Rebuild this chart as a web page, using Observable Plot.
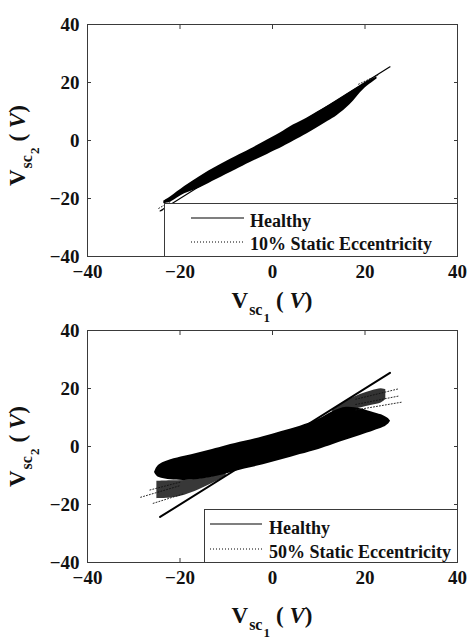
<!DOCTYPE html>
<html>
<head>
<meta charset="utf-8">
<script src="https://cdn.jsdelivr.net/npm/d3@7"></script>
<script src="https://cdn.jsdelivr.net/npm/@observablehq/plot@0.6"></script>
<style>
  body { margin: 0; background: #fff; }
  #wrap { position: relative; width: 469px; height: 639px; overflow: hidden; background: #fff;
          font-family: "Liberation Serif", "Times New Roman", Times, "DejaVu Serif", serif; font-weight: bold; color: #111; }
  .panel { position: absolute; left: 0; }
  .lab { position: absolute; white-space: nowrap; font-size: 23px; line-height: 23px; }
  .lab .s1 { font-size: 16px; position: relative; top: 7px; margin-left: 1px; }
  .lab .s2 { font-size: 13px; position: relative; top: 14px; margin-left: 1px; margin-right: 6px; }
  .lab i { font-style: italic; }
  .ylab { transform-origin: 0 0; transform: rotate(-90deg); }
  .leg { position: absolute; background: #fff; border: 1px solid #3a3a3a; box-sizing: border-box; }
  .leg .t { position: absolute; font-size: 18px; line-height: 18px; white-space: nowrap; }
  .leg svg { position: absolute; left: 0; top: 0; overflow: visible; }
</style>
</head>
<body>
<div id="wrap"></div>
<script>
// ---------- data ----------
const tickValues = [-40, -20, 0, 20, 40];

// Healthy: Vsc2 follows Vsc1 (thin straight trace)
const healthyVsc1 = [-24.3, 25.4];
const healthyVsc2 = [-24.3, 25.4];

// 10% static eccentricity: envelope of the dense trace
const ecc10Vsc1  = [-23.5, -22.0, -19.0, -15.5, -12.0, -8.0, -4.8, -1.1, 2.4, 4.6, 7.5, 9.7, 12.0, 14.0, 16.8, 19.7, 22.6];
const ecc10Upper = [-20.9, -19.4, -15.9, -12.2, -9.0, -5.6, -3.0, 0.2, 3.3, 5.4, 7.8, 9.8, 11.9, 13.8, 16.6, 19.6, 22.0];
const ecc10Lower = [-21.8, -21.2, -18.4, -16.2, -13.4, -10.2, -7.6, -4.8, -2.1, -0.2, 2.3, 4.4, 6.6, 8.6, 12.4, 17.6, 21.2];
// stray dotted bits at the ends
const ecc10StrayId   = [0, 0, 1, 1, 2, 2];
const ecc10StrayVsc1 = [-24.6, -22.0, -24.0, -21.8, 18.6, 22.8];
const ecc10StrayVsc2 = [-23.4, -21.0, -24.2, -22.4, 19.4, 22.6];

// 50% static eccentricity: dense core (bow-tie) envelope
const ecc50CoreVsc1  = [-25.5, -25.0, -24.2, -22.0, -19.0, -16.0, -13.0, -10.0, -6.0, -2.0, 2.0, 6.0, 10.0, 13.0, 16.0, 19.0, 22.0, 24.0, 25.1, 25.5];
const ecc50CoreUpper = [-8.9, -7.2, -6.0, -4.6, -3.4, -2.2, -1.0, 0.3, 1.8, 3.4, 5.2, 7.0, 9.4, 12.0, 13.5, 13.0, 11.6, 10.6, 9.6, 8.8];
const ecc50CoreLower = [-9.0, -10.2, -10.9, -11.5, -11.7, -11.4, -10.6, -9.5, -7.8, -6.3, -4.6, -2.8, -1.0, 0.6, 2.2, 3.8, 5.4, 6.6, 7.8, 8.6];
// sparser steep lobes
const ecc50LobeRVsc1  = [13.0, 16.0, 19.0, 21.5, 23.5, 24.5];
const ecc50LobeRUpper = [12.5, 15.6, 17.9, 19.2, 19.9, 19.6];
const ecc50LobeRLower = [11.0, 12.4, 13.3, 14.2, 15.0, 16.2];
const ecc50LobeLVsc1  = [-25.0, -22.0, -19.0, -16.0, -13.0, -10.0];
const ecc50LobeLUpper = [-12.0, -11.8, -11.7, -11.2, -10.4, -9.0];
const ecc50LobeLLower = [-18.0, -17.8, -16.8, -15.0, -12.8, -10.2];
// dotted fan traces leaving the cloud
const ecc50FanId   = [0, 0, 1, 1, 2, 2, 3, 3, 4, 4, 5, 5];
const ecc50FanVsc1 = [18.0, 27.3, 18.0, 27.3, 18.0, 28.0, -28.5, -20.0, -26.5, -20.0, -25.8, -19.0];
const ecc50FanVsc2 = [16.3, 19.9, 14.5, 17.4, 12.6, 15.3, -17.5, -13.5, -15.0, -12.3, -19.6, -16.2];

// ---------- helpers ----------
const FONT = "'Liberation Serif', 'Times New Roman', Times, 'DejaVu Serif', serif";
const ink = "#111";
const frameInk = "#3a3a3a";
const rows = (n) => d3.range(n);

function envelope(xs, up, lo, opts) {
  return Plot.areaY(rows(xs.length), {x: i => xs[i], y1: i => lo[i], y2: i => up[i], curve: "catmull-rom", ...opts});
}
function dotted(ids, xs, ys) {
  return Plot.line(rows(xs.length), {x: i => xs[i], y: i => ys[i], z: i => ids[i], stroke: ink, strokeWidth: 0.9, strokeDasharray: "1,2"});
}
function healthy(w) {
  return Plot.line(rows(healthyVsc1.length), {x: i => healthyVsc1[i], y: i => healthyVsc2[i], stroke: "#000", strokeWidth: w});
}

function panel(height, mt, mb, marks) {
  return Plot.plot({
    width: 469, height,
    marginLeft: 87, marginRight: 12, marginTop: mt, marginBottom: mb,
    x: {domain: [-40, 40], label: null},
    y: {domain: [-40, 40], label: null},
    style: {background: "transparent", overflow: "visible", fontFamily: FONT, fontSize: "19px", fontWeight: "bold", color: ink},
    marks: [
      ...marks,
      Plot.frame({stroke: frameInk, strokeWidth: 1}),
      Plot.axisX(tickValues, {anchor: "bottom", tickSize: -4, tickPadding: 12, stroke: frameInk}),
      Plot.axisY(tickValues, {anchor: "left", tickSize: -4, tickPadding: 12, stroke: frameInk}),
      Plot.axisX(tickValues, {anchor: "top", tickSize: -4, tickFormat: () => "", stroke: frameInk}),
      Plot.axisY(tickValues, {anchor: "right", tickSize: -4, tickFormat: () => "", stroke: frameInk})
    ]
  });
}

const wrap = document.getElementById("wrap");

// top panel
const topPlot = panel(320, 24, 64, [
  envelope(ecc10Vsc1, ecc10Upper, ecc10Lower, {fill: "#000"}),
  dotted(ecc10StrayId, ecc10StrayVsc1, ecc10StrayVsc2),
  healthy(1.2)
]);
const topDiv = document.createElement("div");
topDiv.className = "panel"; topDiv.style.top = "0px";
topDiv.appendChild(topPlot); wrap.appendChild(topDiv);

// bottom panel
const botPlot = panel(319, 10, 77, [
  envelope(ecc50LobeLVsc1, ecc50LobeLUpper, ecc50LobeLLower, {fill: "#000", fillOpacity: 0.78}),
  envelope(ecc50LobeRVsc1, ecc50LobeRUpper, ecc50LobeRLower, {fill: "#000", fillOpacity: 0.8}),
  envelope(ecc50CoreVsc1, ecc50CoreUpper, ecc50CoreLower, {fill: "#000"}),
  dotted(ecc50FanId, ecc50FanVsc1, ecc50FanVsc2),
  healthy(2)
]);
const botDiv = document.createElement("div");
botDiv.className = "panel"; botDiv.style.top = "320px";
botDiv.appendChild(botPlot); wrap.appendChild(botDiv);

// axis titles
function addHTML(html, cls, left, topPx) {
  const d = document.createElement("div");
  d.className = cls; d.innerHTML = html;
  d.style.left = left + "px"; d.style.top = topPx + "px";
  wrap.appendChild(d);
  return d;
}
const xTitle = 'V<span class="s1">sc</span><span class="s2">1</span>( <i>V</i>)';
const yTitle = 'V<span class="s1">sc</span><span class="s2">2</span>( <i>V</i>)';
[289, 604].forEach(t => {
  const d = addHTML(xTitle, "lab", 0, t);
  d.style.left = (272 - d.offsetWidth / 2) + "px";
});
[145, 446].forEach(c => {
  const d = addHTML(yTitle, "lab ylab", 0, 0);
  const w = d.offsetWidth;
  d.style.left = "6px";
  d.style.top = (c + w / 2) + "px";
});

// legends
function legend(box, items) {
  const d = document.createElement("div");
  d.className = "leg";
  d.style.left = box.l + "px"; d.style.top = box.t + "px";
  d.style.width = box.w + "px"; d.style.height = box.h + "px";
  const ns = "http://www.w3.org/2000/svg";
  const svg = document.createElementNS(ns, "svg");
  svg.setAttribute("width", box.w); svg.setAttribute("height", box.h);
  d.appendChild(svg);
  items.forEach(it => {
    const ln = document.createElementNS(ns, "line");
    ln.setAttribute("x1", it.x1); ln.setAttribute("x2", it.x2);
    ln.setAttribute("y1", it.y); ln.setAttribute("y2", it.y);
    ln.setAttribute("stroke", "#000");
    ln.setAttribute("stroke-width", it.dash ? 1 : 1.2);
    if (it.dash) ln.setAttribute("stroke-dasharray", "1,2");
    svg.appendChild(ln);
    const t = document.createElement("div");
    t.className = "t"; t.textContent = it.label;
    t.style.left = it.tx + "px"; t.style.top = (it.base - 15) + "px";
    d.appendChild(t);
  });
  wrap.appendChild(d);
}
legend({l: 164, t: 203, w: 294, h: 54}, [
  {label: "Healthy", x1: 26, x2: 79, y: 14, tx: 85, base: 23},
  {label: "10% Static Eccentricity", x1: 26, x2: 79, y: 38, tx: 85, base: 46, dash: true}
]);
legend({l: 204, t: 509, w: 254, h: 54}, [
  {label: "Healthy", x1: 5, x2: 57, y: 14, tx: 64, base: 24},
  {label: "50% Static Eccentricity", x1: 5, x2: 57, y: 39, tx: 64, base: 48, dash: true}
]);
</script>
</body>
</html>
